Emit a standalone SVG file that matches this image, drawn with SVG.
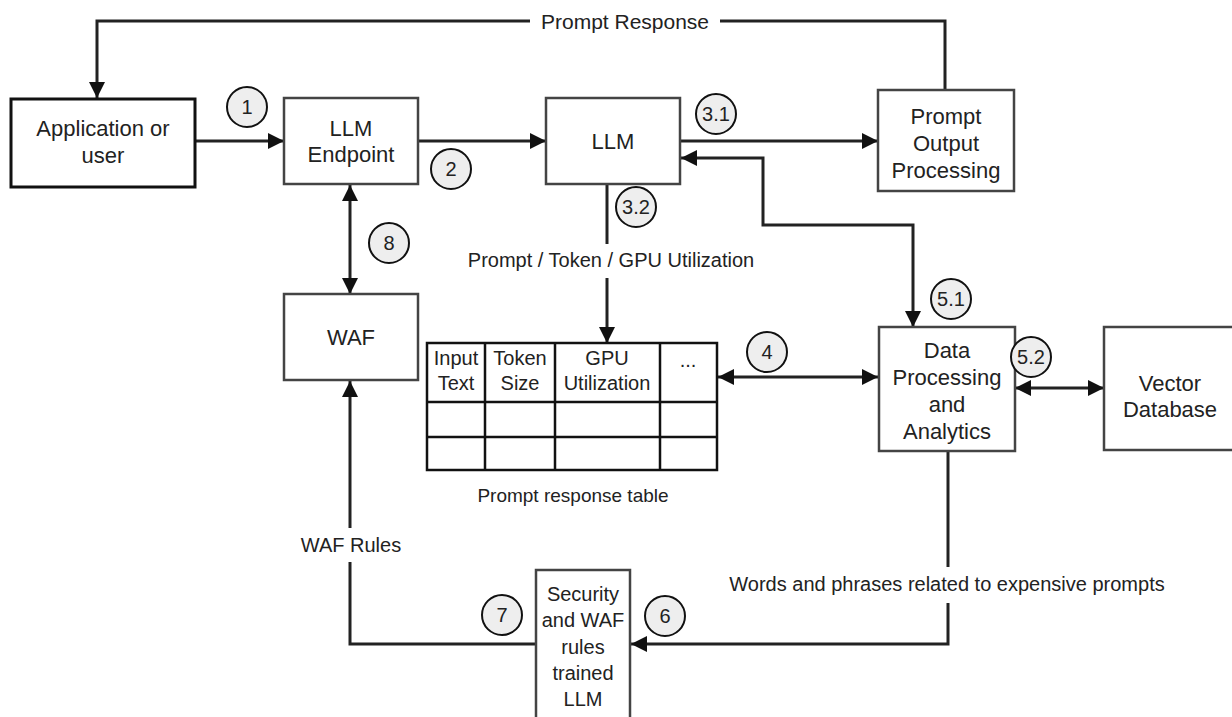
<svg xmlns="http://www.w3.org/2000/svg" width="1232" height="717" viewBox="0 0 1232 717">
  <style>
    .box { fill: #fff; stroke: #444; stroke-width: 2.5; }
    .box.dark { stroke: #111; stroke-width: 3; }
    .t { font-family: "Liberation Sans", Arial, sans-serif; font-size: 22px; fill: #222; text-anchor: middle; dominant-baseline: central; }
    .cell { font-size: 20px; }
    .narrow { font-size: 20px; }
    .lbl { font-family: "Liberation Sans", Arial, sans-serif; font-size: 20px; fill: #222; text-anchor: middle; dominant-baseline: central; }
    .wire { fill: none; stroke: #222; stroke-width: 3; }
    .grid { fill: #fff; stroke: #111; stroke-width: 2.5; }
    .step circle { fill: #eee; stroke: #111; stroke-width: 2; }
    .step text { font-family: "Liberation Sans", Arial, sans-serif; font-size: 20px; fill: #222; text-anchor: middle; dominant-baseline: central; }
  </style>
  <defs>
    <marker id="ah" viewBox="0 0 10 10" refX="10" refY="5" markerWidth="16" markerHeight="16" markerUnits="userSpaceOnUse" orient="auto-start-reverse">
      <path d="M0,0 L10,5 L0,10 z" fill="#111"/>
    </marker>
  </defs>
  <rect width="1232" height="717" fill="#fff"/>

  <!-- connectors -->
  <g id="connectors">
    <path class="wire" d="M530,21 H97 V98" marker-end="url(#ah)"/>
    <path class="wire" d="M720,21 H945 V90"/>
    <path class="wire" d="M195,141 H284" marker-end="url(#ah)"/>
    <path class="wire" d="M418,141 H546" marker-end="url(#ah)"/>
    <path class="wire" d="M680,141 H878" marker-end="url(#ah)"/>
    <path class="wire" d="M681,158 H763 V225 H913 V327" marker-start="url(#ah)" marker-end="url(#ah)"/>
    <path class="wire" d="M607,184 V244"/>
    <path class="wire" d="M607,278 V343" marker-end="url(#ah)"/>
    <path class="wire" d="M350,185 V294" marker-start="url(#ah)" marker-end="url(#ah)"/>
    <path class="wire" d="M718,377 H878" marker-start="url(#ah)" marker-end="url(#ah)"/>
    <path class="wire" d="M1015,388 H1104" marker-start="url(#ah)" marker-end="url(#ah)"/>
    <path class="wire" d="M350,528 V381" marker-end="url(#ah)"/>
    <path class="wire" d="M350,562 V644 H536"/>
    <path class="wire" d="M948,451 V567"/>
    <path class="wire" d="M948,603 V644 H631" marker-end="url(#ah)"/>
    <text class="lbl" x="625" y="21" style="font-size:21px">Prompt Response</text>
    <text class="lbl" x="611" y="260">Prompt / Token / GPU Utilization</text>
    <text class="lbl" x="573" y="495" style="font-size:19px">Prompt response table</text>
    <text class="lbl" x="351" y="545">WAF Rules</text>
    <text class="lbl" x="947" y="584">Words and phrases related to expensive prompts</text>
  </g>

  <g id="app">
    <rect class="box dark" x="11" y="99" width="184" height="88"/>
    <text class="t" x="103" y="128">Application or</text>
    <text class="t" x="103" y="155">user</text>
  </g>
  <g id="endpoint">
    <rect class="box" x="284" y="98" width="134" height="86"/>
    <text class="t" x="351" y="128">LLM</text>
    <text class="t" x="351" y="154">Endpoint</text>
  </g>
  <g id="llm">
    <rect class="box" x="546" y="98" width="134" height="86"/>
    <text class="t" x="613" y="141">LLM</text>
  </g>
  <g id="output-processing">
    <rect class="box" x="878" y="90" width="136" height="101"/>
    <text class="t" x="946" y="116">Prompt</text>
    <text class="t" x="946" y="143">Output</text>
    <text class="t" x="946" y="170">Processing</text>
  </g>
  <g id="waf">
    <rect class="box" x="284" y="294" width="134" height="86"/>
    <text class="t" x="351" y="337">WAF</text>
  </g>
  <g id="response-table">
    <rect class="grid" x="427" y="343" width="290" height="127"/>
    <path class="grid" d="M485,343 V470 M555,343 V470 M660,343 V470 M427,402 H717 M427,437 H717"/>
    <text class="t cell" x="456" y="358">Input</text>
    <text class="t cell" x="456" y="383">Text</text>
    <text class="t cell" x="520" y="358">Token</text>
    <text class="t cell" x="520" y="383">Size</text>
    <text class="t cell" x="607" y="358">GPU</text>
    <text class="t cell" x="607" y="383">Utilization</text>
    <text class="t cell" x="688" y="360">...</text>
  </g>
  <g id="data-processing">
    <rect class="box" x="879" y="327" width="136" height="124"/>
    <text class="t" x="947" y="350">Data</text>
    <text class="t" x="947" y="377">Processing</text>
    <text class="t" x="947" y="404">and</text>
    <text class="t" x="947" y="431">Analytics</text>
  </g>
  <g id="vector-db">
    <rect class="box" x="1104" y="327" width="140" height="123"/>
    <text class="t" x="1170" y="383">Vector</text>
    <text class="t" x="1170" y="409">Database</text>
  </g>
  <g id="security-llm">
    <rect class="box" x="536" y="570" width="94" height="155"/>
    <text class="t narrow" x="583" y="594">Security</text>
    <text class="t narrow" x="583" y="620">and WAF</text>
    <text class="t narrow" x="583" y="647">rules</text>
    <text class="t narrow" x="583" y="673">trained</text>
    <text class="t narrow" x="583" y="699">LLM</text>
  </g>

  <!-- step markers -->
  <g id="steps" class="step">
    <g id="step-1"><circle cx="247" cy="107" r="20"/><text x="247" y="107">1</text></g>
    <g id="step-2"><circle cx="451" cy="169" r="20"/><text x="451" y="169">2</text></g>
    <g id="step-3-1"><circle cx="716" cy="114" r="20"/><text x="716" y="114">3.1</text></g>
    <g id="step-3-2"><circle cx="636" cy="207" r="20"/><text x="636" y="207">3.2</text></g>
    <g id="step-8"><circle cx="389" cy="243" r="20"/><text x="389" y="243">8</text></g>
    <g id="step-4"><circle cx="767" cy="352" r="20"/><text x="767" y="352">4</text></g>
    <g id="step-5-1"><circle cx="951" cy="299" r="20"/><text x="951" y="299">5.1</text></g>
    <g id="step-5-2"><circle cx="1031" cy="357" r="20"/><text x="1031" y="357">5.2</text></g>
    <g id="step-7"><circle cx="502" cy="615" r="20"/><text x="502" y="615">7</text></g>
    <g id="step-6"><circle cx="665" cy="616" r="20"/><text x="665" y="616">6</text></g>
  </g>
</svg>
